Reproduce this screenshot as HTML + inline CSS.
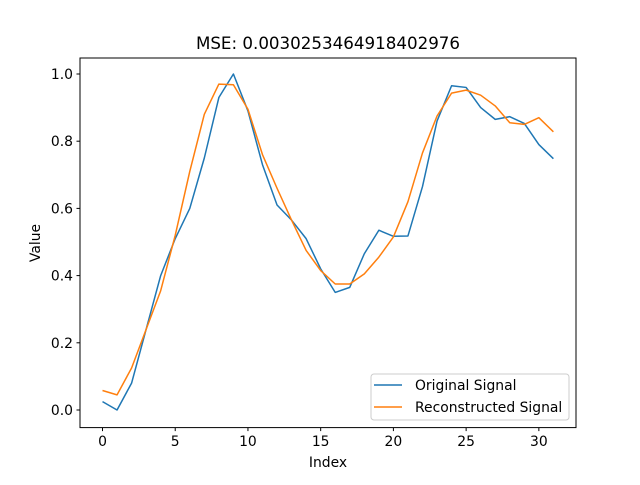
<!DOCTYPE html>
<html><head><meta charset="utf-8"><style>
body{margin:0;background:#fff}
svg text{font-family:"DejaVu Sans","Liberation Sans",sans-serif;fill:#000}
</style></head><body>
<svg id="chart" width="640" height="480" viewBox="0 0 640 480" xmlns="http://www.w3.org/2000/svg">
<rect width="640" height="480" fill="#fff"/>
<text x="328" y="49" font-size="16.7" text-anchor="middle">MSE: 0.0030253464918402976</text>
<g id="ticks"></g>
<g id="series"></g>
<rect x="80" y="58" width="496" height="369.6" fill="none" stroke="#000" stroke-width="1"/>
<text x="328" y="467" font-size="13.9" text-anchor="middle">Index</text>
<text transform="translate(40,243) rotate(-90)" font-size="13.9" text-anchor="middle">Value</text>
<g>
<rect x="371" y="374" width="198" height="46" rx="3" fill="#fff" fill-opacity="0.8" stroke="#ccc"/>
<line x1="374" y1="385" x2="402" y2="385" stroke="#1f77b4" stroke-width="1.5"/>
<text x="415" y="390" font-size="13.9">Original Signal</text>
<line x1="374" y1="407" x2="402" y2="407" stroke="#ff7f0e" stroke-width="1.5"/>
<text x="415" y="412" font-size="13.9">Reconstructed Signal</text>
</g>
</svg>
<script>
const original=[0.025,0.0,0.08,0.24,0.40,0.51,0.60,0.75,0.93,1.0,0.89,0.73,0.61,0.565,0.51,0.42,0.35,0.365,0.465,0.535,0.517,0.518,0.665,0.86,0.965,0.96,0.90,0.865,0.873,0.853,0.79,0.748];
const reconstructed=[0.058,0.045,0.125,0.24,0.355,0.52,0.71,0.88,0.97,0.968,0.895,0.76,0.66,0.565,0.475,0.415,0.375,0.375,0.405,0.455,0.515,0.62,0.765,0.875,0.943,0.952,0.937,0.905,0.855,0.85,0.87,0.828];
const xTicks=[0,5,10,15,20,25,30];
const yTicks=[0.0,0.2,0.4,0.6,0.8,1.0];
const NS="http://www.w3.org/2000/svg";
const xs=v=>102.5+v*14.545;
const ys=v=>410-v*336;
const tg=document.getElementById('ticks');
xTicks.forEach(t=>{
  const l=document.createElementNS(NS,'line');
  l.setAttribute('x1',xs(t));l.setAttribute('x2',xs(t));l.setAttribute('y1',427.6);l.setAttribute('y2',431.1);l.setAttribute('stroke','#000');
  
  
  tg.appendChild(l);
  const tx=document.createElementNS(NS,'text');
  tx.setAttribute('x',xs(t));tx.setAttribute('y',446);tx.setAttribute('font-size','13.9');tx.setAttribute('text-anchor','middle');tx.textContent=t;
  
  
  tg.appendChild(tx);
});
yTicks.forEach(t=>{
  const l=document.createElementNS(NS,'line');
  l.setAttribute('x1',76.5);l.setAttribute('x2',80);l.setAttribute('y1',ys(t));l.setAttribute('y2',ys(t));l.setAttribute('stroke','#000');
  
  
  tg.appendChild(l);
  const tx=document.createElementNS(NS,'text');
  tx.setAttribute('x',73);tx.setAttribute('y',ys(t)+5);tx.setAttribute('font-size','13.9');tx.setAttribute('text-anchor','end');tx.textContent=t.toFixed(1);
  
  
  tg.appendChild(tx);
});
const sg=document.getElementById('series');
function line(data,color,name){
  const p=document.createElementNS(NS,'polyline');
  p.setAttribute('points',data.map((v,i)=>xs(i)+','+ys(v)).join(' '));
  p.setAttribute('fill','none');p.setAttribute('stroke',color);p.setAttribute('stroke-width','1.5');p.setAttribute('stroke-linejoin','round');
  
  
  sg.appendChild(p);
}
line(original,'#1f77b4','original-signal-line');
line(reconstructed,'#ff7f0e','reconstructed-signal-line');
</script>
</body></html>
